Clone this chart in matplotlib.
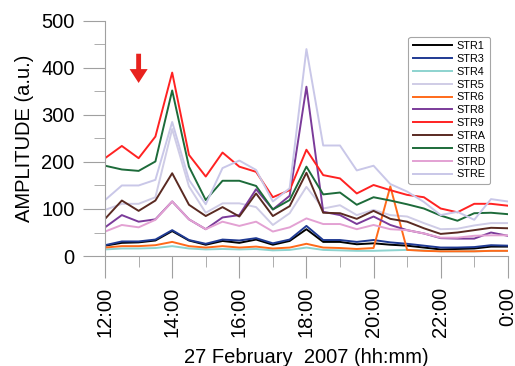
import numpy as np
import matplotlib.pyplot as plt

plt.rcParams["font.family"] = ["Liberation Sans", "DejaVu Sans"]

# half-hourly samples, 12:00 -> 24:00
hours = np.arange(12, 24.5, 0.5)
tick_hours = [12, 14, 16, 18, 20, 22, 24]
tick_labels = ["12:00", "14:00", "16:00", "18:00", "20:00", "22:00", "0:00"]

str1 = [22, 28, 29, 33, 53, 33, 24, 32, 28, 35, 24, 32, 57, 30, 30, 25, 27, 24, 22, 18, 14, 15, 16, 20, 20]
str3 = [23, 31, 31, 35, 55, 34, 26, 35, 33, 38, 27, 35, 64, 34, 34, 30, 34, 29, 26, 22, 18, 18, 19, 23, 22]
str4 = [14, 16, 16, 17, 21, 16, 14, 15, 14, 15, 12, 13, 18, 13, 12, 11, 11, 12, 13, 12, 10, 10, 10, 11, 11]
str5 = [98, 111, 111, 125, 270, 148, 92, 112, 112, 104, 66, 91, 147, 101, 108, 87, 98, 87, 84, 70, 57, 58, 65, 70, 70]
str6 = [18, 21, 21, 23, 30, 21, 18, 21, 18, 20, 16, 18, 26, 18, 17, 15, 17, 148, 13, 11, 10, 10, 10, 11, 11]
str8 = [61, 87, 73, 78, 116, 78, 57, 82, 87, 142, 99, 128, 360, 94, 87, 68, 84, 66, 55, 48, 38, 37, 37, 50, 43]
str9 = [208, 234, 208, 254, 390, 215, 169, 220, 190, 179, 125, 140, 226, 172, 165, 133, 151, 140, 130, 125, 101, 93, 111, 111, 107]
strA = [79, 118, 96, 118, 176, 109, 85, 104, 84, 133, 85, 106, 177, 92, 91, 79, 96, 79, 73, 59, 47, 50, 55, 60, 59]
strB = [192, 184, 181, 201, 352, 190, 119, 160, 160, 149, 99, 119, 190, 131, 135, 109, 125, 118, 110, 101, 86, 75, 91, 92, 89]
strD = [52, 66, 61, 77, 116, 78, 57, 73, 64, 73, 52, 61, 80, 68, 68, 57, 66, 57, 55, 48, 39, 39, 43, 44, 44]
strE = [119, 150, 150, 162, 285, 162, 110, 187, 203, 183, 116, 144, 440, 235, 235, 182, 192, 153, 137, 115, 87, 94, 77, 121, 116]

series = [
    ("STR1", str1, "#000000"),
    ("STR3", str3, "#1f3a93"),
    ("STR4", str4, "#8dd3cf"),
    ("STR5", str5, "#cfcce6"),
    ("STR6", str6, "#ff6a1a"),
    ("STR8", str8, "#7b3b9a"),
    ("STR9", str9, "#ff2222"),
    ("STRA", strA, "#5a2a22"),
    ("STRB", strB, "#1d6b3a"),
    ("STRD", strD, "#e3a1d3"),
    ("STRE", strE, "#c9c7e8"),
]

fig = plt.figure(figsize=(5.15, 3.66), dpi=100)
ax = fig.add_axes([0.204, 0.3005, 0.782, 0.6425])

for name, vals, col in series:
    ax.plot(hours, vals, color=col, lw=1.4, label=name)

# red arrow marking 13:00
ax.annotate("", xy=(13, 362), xytext=(13, 436),
            arrowprops=dict(arrowstyle="simple,head_width=1.3,head_length=1.0,tail_width=0.35",
                            color="#e8221e", lw=0))

ax.set_xlim(12, 24)
ax.set_ylim(0, 500)
ax.set_xticks(tick_hours)
ax.set_xticklabels(tick_labels, rotation=90)
ax.set_xticks(np.arange(13, 24, 2), minor=True)
ax.set_yticks(np.arange(0, 501, 100))
ax.set_yticks(np.arange(50, 500, 100), minor=True)

for s in ["top", "right"]:
    ax.spines[s].set_visible(False)
for s in ["left", "bottom"]:
    ax.spines[s].set_color("#a0a0a0")

ax.tick_params(which="major", length=16, color="#a0a0a0", labelsize=14.5)
ax.tick_params(axis="y", which="major", pad=6)
ax.tick_params(axis="x", which="major", pad=6)
ax.tick_params(which="minor", length=8, color="#a0a0a0")

ax.set_ylabel("AMPLITUDE (a.u.)", fontsize=14.5, labelpad=5)
ax.set_xlabel("27 February  2007 (hh:mm)", fontsize=14.5, labelpad=8)

leg = ax.legend(loc="upper left", bbox_to_anchor=(0.74, 0.955), fontsize=7.8,
                handlelength=3.6, labelspacing=0.26, borderpad=0.4,
                handletextpad=0.4, frameon=True, fancybox=True)
leg.get_frame().set_edgecolor("#909090")
leg.get_frame().set_linewidth(0.8)

plt.savefig("out.png", dpi=100)
plt.close()
